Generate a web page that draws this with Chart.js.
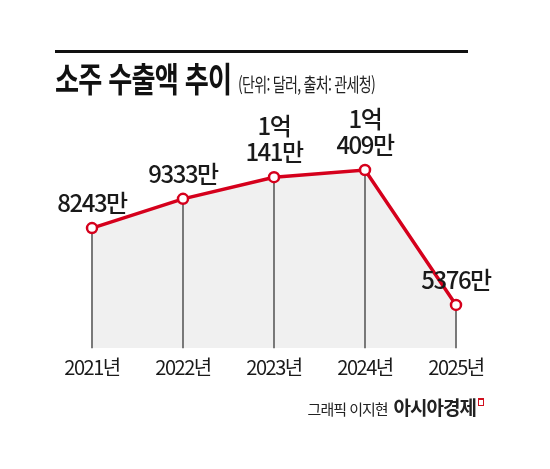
<!DOCTYPE html>
<html lang="ko">
<head>
<meta charset="utf-8">
<script src="https://cdn.jsdelivr.net/npm/chart.js@4.4.1/dist/chart.umd.min.js"></script>
<style>
    html, body { margin: 0; padding: 0; background: #fff; }
    #wrap { position: relative; width: 550px; height: 469px; overflow: hidden; font-family: "Noto Sans CJK KR", sans-serif; }
    #chart { position: absolute; left: 0; top: 0; }
    .rule { position: absolute; left: 55px; top: 50px; width: 413px; height: 3px; background: #111; }
    .title { position: absolute; left: 55px; top: 53px; white-space: nowrap; font-size: 34px; font-weight: 700; color: #111; letter-spacing: -1px; transform: scaleX(0.77); transform-origin: left top; }
    .sub { position: absolute; left: 238px; top: 70px; white-space: nowrap; font-size: 19px; color: #222; letter-spacing: -1px; transform: scaleX(0.74); transform-origin: left top; }
    .credit { position: absolute; right: 74px; top: 393px; white-space: nowrap; color: #222; }
    .credit .who { font-size: 15px; letter-spacing: -1px; }
    .credit .brand { font-size: 19px; font-weight: 700; letter-spacing: -1px; margin-left: 6px; }
    .credit .mark { position: absolute; right: -8px; top: 5px; width: 4px; height: 5px; border: 1.5px solid #d0101e; border-top-width: 2px; }
</style>
</head>
<body>
<div id="wrap">
    <canvas id="chart" width="550" height="469"></canvas>
    <div class="rule"></div>
    <div class="title">소주 수출액 추이</div>
    <div class="sub">(단위: 달러, 출처: 관세청)</div>
    <div class="credit"><span class="who">그래픽 이지현</span><span class="brand">아시아경제</span><i class="mark"></i></div>
</div>
<script>
// 소주 수출액 (만 달러)
const years = ['2021년', '2022년', '2023년', '2024년', '2025년'];
const exportValues = [8243, 9333, 10141, 10409, 5376];
const yMin = 3770;
const yMax = 13020;

function formatValue(v) {
    // 1억 = 10000만
    if (v >= 10000) {
        return [Math.floor(v / 10000) + '억', (v % 10000) + '만'];
    }
    return [v + '만'];
}

const valueLabels = {
    id: 'valueLabels',
    beforeDraw(chart) {
        chart.ctx.letterSpacing = '-1.5px';
    },
    afterDatasetsDraw(chart) {
        const ctx = chart.ctx;
        const meta = chart.getDatasetMeta(1);
        ctx.save();
        ctx.letterSpacing = '-1.5px';
        ctx.font = '500 24px "Noto Sans CJK KR"';
        ctx.fillStyle = '#1a1a1a';
        ctx.textAlign = 'center';
        ctx.textBaseline = 'middle';
        meta.data.forEach((pt, i) => {
            const lines = formatValue(exportValues[i]);
            lines.forEach((txt, j) => {
                const y = pt.y - 25 - (lines.length - 1 - j) * 26;
                ctx.fillText(txt, pt.x, y);
            });
        });
        ctx.restore();
    }
};

const ctx = document.getElementById('chart').getContext('2d');
new Chart(ctx, {
    type: 'line',
    data: {
        labels: years,
        datasets: [{
            type: 'bar',
            data: exportValues,
            base: yMin,
            backgroundColor: '#707070',
            barThickness: 1.2,
            order: 2,
            clip: false
        }, {
            data: exportValues,
            borderColor: '#d5001c',
            borderWidth: 3.5,
            tension: 0,
            fill: 'start',
            backgroundColor: '#f0f0f0',
            pointRadius: 5,
            pointBorderWidth: 2.5,
            pointBackgroundColor: '#ffffff',
            pointBorderColor: '#d5001c',
            order: 1,
            clip: false
        }]
    },
    options: {
        responsive: false,
        animation: false,
        events: [],
        layout: {
            padding: { left: 92, right: 94, top: 100, bottom: 0 }
        },
        plugins: {
            legend: { display: false },
            tooltip: { enabled: false },
            filler: { drawTime: 'beforeDatasetsDraw' }
        },
        scales: {
            x: {
                offset: false,
                grid: { display: false, drawTicks: false },
                border: { display: false },
                ticks: {
                    padding: 7,
                    color: '#1a1a1a',
                    font: { family: '"Noto Sans CJK KR"', size: 20 }
                },
                afterFit(scale) { scale.height = 121; }
            },
            y: {
                display: false,
                min: yMin,
                max: yMax
            }
        }
    },
    plugins: [valueLabels]
});
</script>
</body>
</html>
